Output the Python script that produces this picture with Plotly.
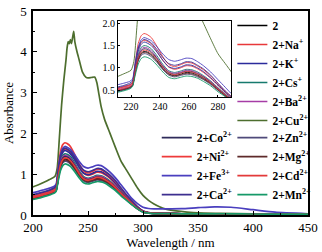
import plotly.graph_objects as go

WL = [200, 205, 210, 215, 219, 221, 223, 225, 227, 229, 231, 234, 238, 242, 246, 250, 254, 258,
      262, 266, 270, 275, 280, 285, 290, 295, 300, 305, 310, 320, 335, 350, 365, 380, 400, 420, 450]

TAIL = [0.035, 0.03, 0.03, 0.03, 0.03, 0.025, 0.02, 0.02]

A_2 = [0.42, 0.45, 0.49, 0.53, 0.57, 0.62, 0.92, 1.20, 1.33, 1.37, 1.36, 1.30, 1.16, 0.99, 0.87, 0.83, 0.86, 0.90,
       0.89, 0.84, 0.77, 0.66, 0.52, 0.39, 0.27, 0.16, 0.08, 0.05, 0.04] + TAIL
A_Na = [0.46, 0.49, 0.53, 0.57, 0.61, 0.66, 1.06, 1.42, 1.57, 1.62, 1.60, 1.54, 1.37, 1.17, 1.02, 0.97, 1.00, 1.05,
        1.04, 0.98, 0.90, 0.77, 0.61, 0.45, 0.32, 0.19, 0.09, 0.055, 0.045] + TAIL
A_K = [0.48, 0.51, 0.55, 0.59, 0.63, 0.68, 1.06, 1.38, 1.53, 1.58, 1.56, 1.50, 1.35, 1.17, 1.03, 0.99, 1.02, 1.07,
       1.06, 1.00, 0.92, 0.78, 0.62, 0.46, 0.32, 0.19, 0.09, 0.055, 0.045] + TAIL
A_Cs = [0.40, 0.43, 0.47, 0.51, 0.55, 0.60, 0.98, 1.31, 1.46, 1.50, 1.49, 1.43, 1.27, 1.08, 0.94, 0.90, 0.93, 0.97,
        0.96, 0.91, 0.83, 0.71, 0.56, 0.42, 0.29, 0.17, 0.08, 0.05, 0.04] + TAIL
A_Ba = [0.44, 0.47, 0.51, 0.55, 0.59, 0.64, 0.98, 1.28, 1.42, 1.46, 1.45, 1.39, 1.23, 1.05, 0.92, 0.88, 0.91, 0.95,
        0.94, 0.89, 0.81, 0.70, 0.55, 0.41, 0.28, 0.17, 0.08, 0.05, 0.04] + TAIL
A_Co = [0.41, 0.44, 0.48, 0.52, 0.56, 0.61, 0.95, 1.25, 1.39, 1.43, 1.42, 1.36, 1.21, 1.03, 0.90, 0.86, 0.89, 0.93,
        0.92, 0.87, 0.80, 0.68, 0.54, 0.40, 0.28, 0.17, 0.08, 0.05, 0.04] + TAIL
A_Ni = [0.47, 0.50, 0.54, 0.58, 0.62, 0.67, 1.14, 1.55, 1.72, 1.77, 1.75, 1.68, 1.48, 1.25, 1.08, 1.03, 1.07, 1.12,
        1.11, 1.04, 0.96, 0.82, 0.65, 0.48, 0.34, 0.20, 0.10, 0.06, 0.045] + TAIL
A_Fe = [0.55, 0.58, 0.62, 0.66, 0.70, 0.75, 1.14, 1.47, 1.63, 1.68, 1.66, 1.61, 1.47, 1.31, 1.19, 1.15, 1.18, 1.22,
        1.21, 1.14, 1.05, 0.91, 0.74, 0.57, 0.40, 0.28, 0.19, 0.16, 0.15,
        0.15, 0.155, 0.18, 0.20, 0.19, 0.13, 0.07, 0.03]
A_Ca = [0.50, 0.53, 0.57, 0.61, 0.66, 0.71, 1.10, 1.44, 1.59, 1.64, 1.62, 1.56, 1.41, 1.23, 1.10, 1.06, 1.09, 1.14,
        1.13, 1.06, 0.98, 0.84, 0.66, 0.49, 0.34, 0.20, 0.10, 0.06, 0.045] + TAIL
A_Zn = [0.40, 0.43, 0.47, 0.51, 0.55, 0.60, 0.90, 1.16, 1.28, 1.32, 1.31, 1.25, 1.12, 0.96, 0.84, 0.80, 0.83, 0.86,
        0.85, 0.80, 0.74, 0.63, 0.50, 0.37, 0.26, 0.15, 0.07, 0.045, 0.035] + TAIL
A_Mg = [0.41, 0.44, 0.48, 0.52, 0.56, 0.61, 0.92, 1.18, 1.31, 1.35, 1.34, 1.28, 1.14, 0.98, 0.86, 0.82, 0.85, 0.88,
        0.87, 0.82, 0.75, 0.65, 0.51, 0.38, 0.26, 0.16, 0.08, 0.05, 0.04] + TAIL
A_Cd = [0.43, 0.46, 0.50, 0.54, 0.58, 0.63, 0.95, 1.23, 1.36, 1.40, 1.39, 1.33, 1.19, 1.02, 0.89, 0.85, 0.88, 0.92,
        0.91, 0.86, 0.79, 0.67, 0.53, 0.40, 0.28, 0.16, 0.08, 0.05, 0.04] + TAIL
A_Mn = [0.38, 0.41, 0.45, 0.49, 0.53, 0.58, 0.85, 1.09, 1.21, 1.25, 1.24, 1.19, 1.06, 0.91, 0.79, 0.76, 0.79, 0.82,
        0.81, 0.77, 0.70, 0.60, 0.47, 0.36, 0.25, 0.15, 0.07, 0.045, 0.035] + TAIL

WL_CU = [200, 205, 210, 215, 220, 222, 224, 226, 228, 230, 231, 232, 233, 234, 235, 236, 237, 238, 240, 242,
         245, 248, 250, 253, 256, 258, 260, 262, 265, 270, 275, 280, 285, 290, 295, 300, 305, 310, 315, 320,
         330, 340, 350, 370, 400, 450]
A_Cu = [0.69, 0.74, 0.80, 0.87, 0.95, 1.15, 1.90, 2.70, 3.30, 3.80, 4.10, 4.25, 4.20, 4.30, 4.20, 4.35, 4.50, 4.25,
        4.00, 3.80, 3.50, 3.38, 3.36, 3.37, 3.38, 3.25, 2.95, 2.65, 2.35, 2.00, 1.65, 1.32, 1.10, 0.88, 0.66,
        0.48, 0.36, 0.27, 0.20, 0.15, 0.10, 0.07, 0.05, 0.04, 0.03, 0.02]

SERIES = [
    ("<b>2</b>", A_2, "#000000", "legend"),
    ("<b>2+Na<sup>+</sup></b>", A_Na, "#e8383a", "legend"),
    ("<b>2+K<sup>+</sup></b>", A_K, "#2b2b9c", "legend"),
    ("<b>2+Cs<sup>+</sup></b>", A_Cs, "#167a6e", "legend"),
    ("<b>2+Ba<sup>2+</sup></b>", A_Ba, "#a63ca6", "legend"),
    ("<b>2+Cu<sup>2+</sup></b>", A_Cu, "#4d6e2e", "legend"),
    ("<b>2+Co<sup>2+</sup></b>", A_Co, "#2e2b5a", "legend2"),
    ("<b>2+Ni<sup>2+</sup></b>", A_Ni, "#ee3a3a", "legend2"),
    ("<b>2+Fe<sup>3+</sup></b>", A_Fe, "#4a3fbf", "legend2"),
    ("<b>2+Ca<sup>2+</sup></b>", A_Ca, "#3d2f8f", "legend2"),
    ("<b>2+Zn<sup>2+</sup></b>", A_Zn, "#4f4a7a", "legend3"),
    ("<b>2+Mg<sup>2+</sup></b>", A_Mg, "#5e2a2a", "legend3"),
    ("<b>2+Cd<sup>2+</sup></b>", A_Cd, "#e33a3a", "legend3"),
    ("<b>2+Mn<sup>2+</sup></b>", A_Mn, "#169968", "legend3"),
]

FONT = "Liberation Serif"
fig = go.Figure()

for name, ys, color, leg in SERIES:
    xs = WL_CU if ys is A_Cu else WL
    fig.add_trace(go.Scatter(x=xs, y=ys, mode="lines", name=name, legend=leg,
                             line=dict(color=color, width=1.7, shape="spline", smoothing=0.6)))
for name, ys, color, leg in SERIES:
    xs = WL_CU if ys is A_Cu else WL
    fig.add_trace(go.Scatter(x=xs, y=ys, mode="lines", showlegend=False, xaxis="x2", yaxis="y2",
                             line=dict(color=color, width=0.9, shape="spline", smoothing=0.6)))

axis_common = dict(showline=True, linecolor="black", mirror=True, ticks="inside",
                   showgrid=False, zeroline=False, tickcolor="black")

leg_common = dict(xanchor="left", yanchor="top", bgcolor="rgba(0,0,0,0)",
                  font=dict(size=11.5, family=FONT, color="black"), itemwidth=30, tracegroupgap=0)

fig.update_layout(
    width=322, height=252,
    margin=dict(l=33, r=14, t=11, b=37, autoexpand=False),
    paper_bgcolor="white", plot_bgcolor="white",
    font=dict(family=FONT, color="black", size=13),
    xaxis=dict(range=[200, 450], tickvals=[200, 250, 300, 350, 400, 450], linewidth=1.5, ticklen=4,
               minor=dict(dtick=25, ticks="inside", ticklen=2, tickcolor="black"),
               title=dict(text="Wavelength / nm", font=dict(size=13), standoff=3),
               tickfont=dict(size=13), automargin=False, **axis_common),
    yaxis=dict(range=[0, 5], tickvals=[0, 1, 2, 3, 4, 5], linewidth=1.5, ticklen=4,
               minor=dict(dtick=0.5, ticks="inside", ticklen=2, tickcolor="black"),
               title=dict(text="Absorbance", font=dict(size=13), standoff=4),
               tickfont=dict(size=13), ticklabelstandoff=2, automargin=False, **axis_common),
    xaxis2=dict(domain=[0.309, 0.72], anchor="y2", range=[211, 289], tickvals=[220, 240, 260, 280],
                linewidth=0.8, ticklen=2, tickfont=dict(size=10), **axis_common),
    yaxis2=dict(domain=[0.578, 0.951], anchor="x2", range=[0.35, 2.05], tickvals=[0.5, 1.0, 1.5, 2.0],
                tickformat=".1f", linewidth=0.8, ticklen=2, tickfont=dict(size=10), **axis_common),
    legend=dict(x=0.725, y=1.0, **leg_common),
    legend2=dict(x=0.45, y=0.45, **leg_common),
    legend3=dict(x=0.725, y=0.45, **leg_common),
)

fig.write_html("out.html", config={"displayModeBar": False},
               post_script="document.body.style.margin='0';")
